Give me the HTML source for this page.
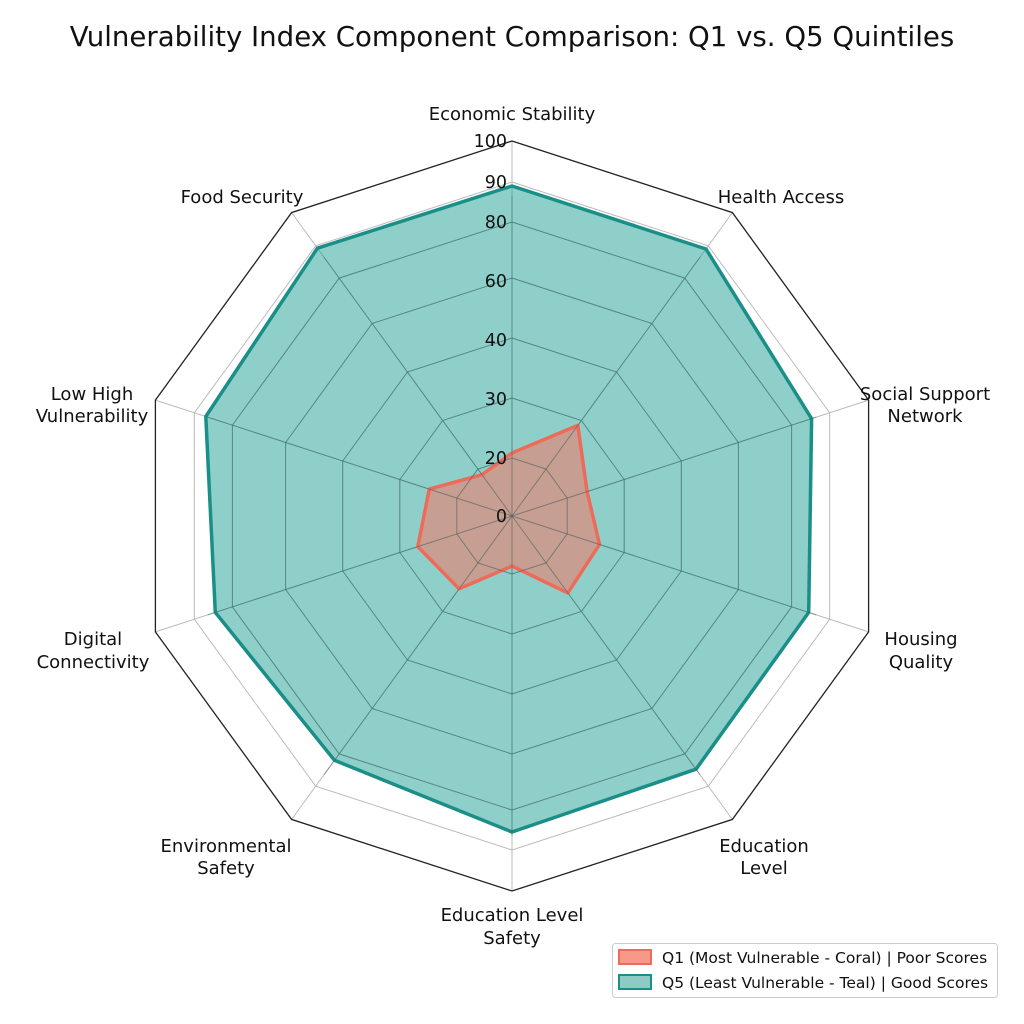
<!DOCTYPE html>
<html><head><meta charset="utf-8"><style>
body{margin:0;background:#fff;}
svg{display:block;font-family:"DejaVu Sans","Liberation Sans",sans-serif;}
</style></head><body>
<svg id="s" width="1024" height="1024" viewBox="0 0 1024 1024" xmlns="http://www.w3.org/2000/svg">
<rect width="1024" height="1024" fill="#fff"/>
<text x="512" y="46" font-size="27.6" text-anchor="middle" fill="#111">Vulnerability Index Component Comparison: Q1 vs. Q5 Quintiles</text>
<g id="g"></g>
<g font-size="18" fill="#111" text-anchor="middle">
<text x="512" y="120">Economic Stability</text>
<text x="781" y="203">Health Access</text>
<text x="925" y="400">Social Support</text><text x="925" y="422">Network</text>
<text x="921" y="645">Housing</text><text x="921" y="668">Quality</text>
<text x="764" y="852">Education</text><text x="764" y="874">Level</text>
<text x="512" y="921">Education Level</text><text x="512" y="944">Safety</text>
<text x="226" y="852">Environmental</text><text x="226" y="874">Safety</text>
<text x="93" y="645">Digital</text><text x="93" y="668">Connectivity</text>
<text x="92" y="400">Low High</text><text x="92" y="422">Vulnerability</text>
<text x="242" y="203">Food Security</text>
</g>
<g font-size="17.5" fill="#111" text-anchor="end">
<text x="507" y="147">100</text><text x="507" y="188">90</text><text x="507" y="228">80</text>
<text x="507" y="287">60</text><text x="507" y="346">40</text><text x="507" y="405">30</text>
<text x="507" y="464">20</text><text x="507" y="522">0</text>
</g>
<rect x="612.5" y="943.5" width="385" height="54" rx="3" fill="#fff" stroke="#ccc"/>
<rect x="619" y="950" width="32" height="14" fill="#f59a88" stroke="#ee6b5a" stroke-width="2"/>
<rect x="619" y="975" width="32" height="14" fill="#8ecbc5" stroke="#1a8f87" stroke-width="2"/>
<g font-size="15.5" fill="#111"><text x="662" y="963">Q1 (Most Vulnerable - Coral) | Poor Scores</text>
<text x="662" y="988">Q5 (Least Vulnerable - Teal) | Good Scores</text></g>
</svg>
<script>
var cx=512,cy=516,g=document.getElementById('g'),ns='http://www.w3.org/2000/svg';
function pts(rs){return rs.map(function(r,i){var a=i*Math.PI/5;return (cx+r*Math.sin(a)).toFixed(1)+','+(cy-r*Math.cos(a)).toFixed(1)}).join(' ');}
function poly(rs,a){var p=document.createElementNS(ns,'polygon');p.setAttribute('points',pts(rs));for(var k in a)p.setAttribute(k,a[k]);g.appendChild(p);}
function ring(r){var a=[];for(var i=0;i<10;i++)a.push(r);return a;}
[58,118,178,238,294,334].forEach(function(r){poly(ring(r),{fill:'none',stroke:'#bbb','stroke-width':1});});
for(var i=0;i<10;i++){var a=i*Math.PI/5,l=document.createElementNS(ns,'line');l.setAttribute('x1',cx);l.setAttribute('y1',cy);l.setAttribute('x2',cx+375*Math.sin(a));l.setAttribute('y2',cy-375*Math.cos(a));l.setAttribute('stroke','#bbb');g.appendChild(l);}
poly(ring(375),{fill:'none',stroke:'#222','stroke-width':1.3});
poly([330,330,315,312,313,316,302,312,322,331],{fill:'rgba(32,160,150,0.5)',stroke:'#1a8f87','stroke-width':3.5,'stroke-linejoin':'round'});
poly([63,112,79,92,95,50,90,99,87,51],{fill:'rgba(245,120,100,0.55)',stroke:'#ee6b5a','stroke-width':3.5,'stroke-linejoin':'round'});
[58,118,178,238,294].forEach(function(r){poly(ring(r),{fill:'none',stroke:'rgba(60,90,90,0.45)','stroke-width':1});});
for(var i=0;i<10;i++){var a=i*Math.PI/5,l=document.createElementNS(ns,'line');l.setAttribute('x1',cx);l.setAttribute('y1',cy);l.setAttribute('x2',cx+320*Math.sin(a));l.setAttribute('y2',cy-320*Math.cos(a));l.setAttribute('stroke','rgba(60,90,90,0.45)');g.appendChild(l);}
</script>
</body></html>
